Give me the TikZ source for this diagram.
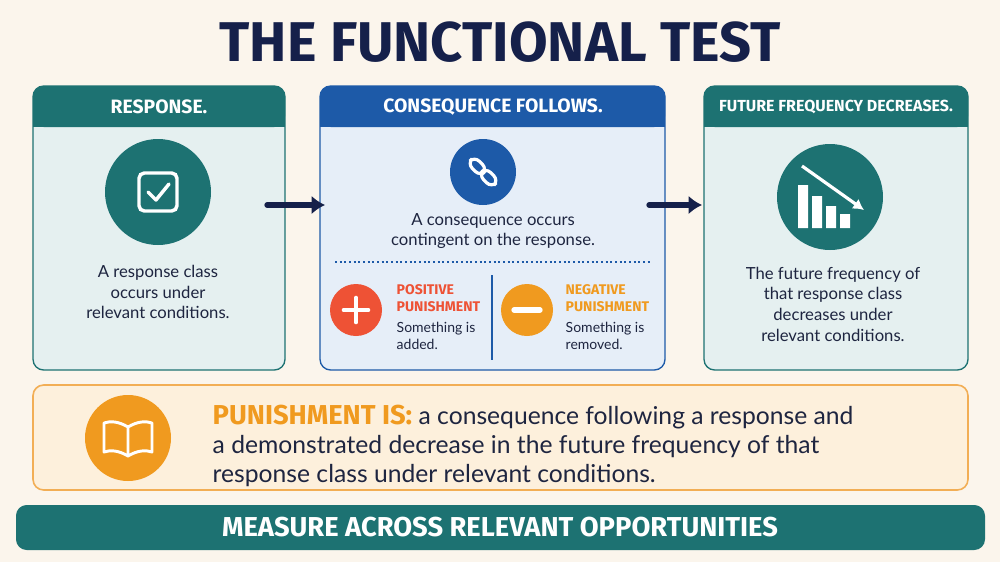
\documentclass[tikz,border=0pt]{standalone}
\usepackage{fontspec}
\setmainfont{Lato}
\newfontfamily\headf{Fira Sans}
\usetikzlibrary{arrows.meta}
\definecolor{bg}{HTML}{FBF5EC}
\definecolor{navy}{HTML}{15204A}
\definecolor{teal}{HTML}{1D7272}
\definecolor{tealbg}{HTML}{E5F0F0}
\definecolor{blue}{HTML}{1D5AA8}
\definecolor{bluebg}{HTML}{E6EEF8}
\definecolor{red}{HTML}{EE5235}
\definecolor{orange}{HTML}{F09A1F}
\definecolor{orbg}{HTML}{FDF0DC}
\definecolor{orline}{HTML}{F2AE55}
\definecolor{txt}{HTML}{1E2540}
\begin{document}
\begin{tikzpicture}[x=0.75pt,y=-0.75pt,
  hdr/.style={font=\headf\bfseries\fontsize{14.5}{17}\selectfont,text=white},
  body/.style={font=\fontsize{12.5}{15.5}\selectfont,text=txt,align=center},
  small/.style={font=\fontsize{10.5}{13}\selectfont,text=txt,align=left,anchor=west},
  lab/.style={font=\headf\bfseries\fontsize{10.5}{13}\selectfont,align=left,anchor=west},
  arr/.style={navy,line width=4pt,-{Latex[length=10pt,width=14pt]},line cap=round}]
\fill[bg] (0,0) rectangle (1000,562);
\useasboundingbox (0,0) rectangle (1000,562);
\node[font=\headf\bfseries\fontsize{42}{46}\selectfont,text=navy] (title) at (500,42) {THE FUNCTIONAL TEST};
% box1
\draw[teal,line width=1pt,fill=tealbg,rounded corners=8pt] (33,86) rectangle (285,370);
\fill[teal,rounded corners=8pt] (33,86) rectangle (285,127);
\fill[teal] (33,110) rectangle (285,127);
\node[hdr] (h1) at (159,107) {RESPONSE.};
\node[circle,fill=teal,minimum size=106pt*0.75] (c1) at (158,192) {};
\draw[white,line width=2.6pt,rounded corners=4pt] (139,173) rectangle (177,211);
\draw[white,line width=2.6pt,line cap=round,line join=round] (148,192)--(156,200)--(169,184);
\node[body] (t1) at (158,292) {A response class\\occurs under\\relevant conditions.};
% box2
\draw[blue,line width=1pt,fill=bluebg,rounded corners=8pt] (320,86) rectangle (665,370);
\fill[blue,rounded corners=8pt] (320,86) rectangle (665,127);
\fill[blue] (320,110) rectangle (665,127);
\node[hdr] (h2) at (493,107) {CONSEQUENCE FOLLOWS.};
\node[circle,fill=blue,minimum size=66pt*0.75] (c2) at (483,172) {};
\begin{scope}[shift={(483,172)},rotate=-45]
\draw[white,line width=2.4pt,rounded corners=5pt] (-17,-5) rectangle (1,5);
\draw[white,line width=2.4pt,rounded corners=5pt] (-1,-5) rectangle (17,5);
\end{scope}
\node[body] (t2) at (493,231) {A consequence occurs\\contingent on the response.};
\draw[blue,line width=1pt,dash pattern=on 1.5pt off 2pt] (335,262)--(652,262);
\draw[blue,line width=0.8pt] (492,275)--(492,360);
\node[circle,fill=red,minimum size=52pt*0.75] (plus) at (356,310) {};
\draw[white,line width=3.5pt,line cap=round] (344,310)--(368,310) (356,298)--(356,322);
\node[circle,fill=orange,minimum size=52pt*0.75] (minus) at (527,310) {};
\draw[white,line width=4pt,line cap=round] (514,310)--(540,310);
\node[lab,text=red] (pp) at (392,298) {POSITIVE\\PUNISHMENT};
\node[small] (pa) at (392,336) {Something is\\added.};
\node[lab,text=orange] (np) at (561,298) {NEGATIVE\\PUNISHMENT};
\node[small] (na) at (561,336) {Something is\\removed.};
% box3
\draw[teal,line width=1pt,fill=tealbg,rounded corners=8pt] (704,86) rectangle (968,370);
\fill[teal,rounded corners=8pt] (704,86) rectangle (968,127);
\fill[teal] (704,110) rectangle (968,127);
\node[hdr,font=\headf\bfseries\fontsize{12}{14}\selectfont] (h3) at (836,107) {FUTURE FREQUENCY DECREASES.};
\node[circle,fill=teal,minimum size=106pt*0.75] (c3) at (830,197) {};
\fill[white] (798,185) rectangle (808,228) (812,196) rectangle (822,228) (826,206) rectangle (836,228) (840,214) rectangle (850,228);
\draw[white,line width=2.4pt,-{Latex[length=8pt,width=9pt]}] (802,166)--(864,210);
\node[body] (t3) at (833,304) {The future frequency of\\that response class\\decreases under\\relevant conditions.};
% arrows
\coordinate (a1s) at (267,205); \coordinate (a1e) at (325,205);
\coordinate (a2s) at (649,205); \coordinate (a2e) at (702,205);
\draw[arr] (a1s)--(a1e);
\draw[arr] (a2s)--(a2e);
% definition box
\draw[orline,line width=1.2pt,fill=orbg,rounded corners=8pt] (33,385) rectangle (968,490);
\node[circle,fill=orange,minimum size=86pt*0.75] (book) at (128,438) {};
\begin{scope}[white,line width=2.2pt,line join=round]
\draw (128,427) .. controls (118,421) and (110,421) .. (104,423) -- (104,452) .. controls (110,450) and (118,450) .. (128,456) .. controls (138,450) and (146,450) .. (152,452) -- (152,423) .. controls (146,421) and (138,421) .. (128,427) -- (128,456);
\end{scope}
\node[anchor=north west,align=left,text=txt,font=\fontsize{18.5}{22}\selectfont] (def) at (208,400)
{{\headf\bfseries\color{orange}\fontsize{20.5}{22}\selectfont PUNISHMENT IS:}\ a consequence following a response and\\a demonstrated decrease in the future frequency of that\\response class under relevant conditions.};
% bottom bar
\fill[teal,rounded corners=8pt] (16,505) rectangle (985,550);
\node[font=\headf\bfseries\fontsize{20.5}{24}\selectfont,text=white] (bar) at (500,527) {MEASURE ACROSS RELEVANT OPPORTUNITIES};
\end{tikzpicture}
\end{document}
